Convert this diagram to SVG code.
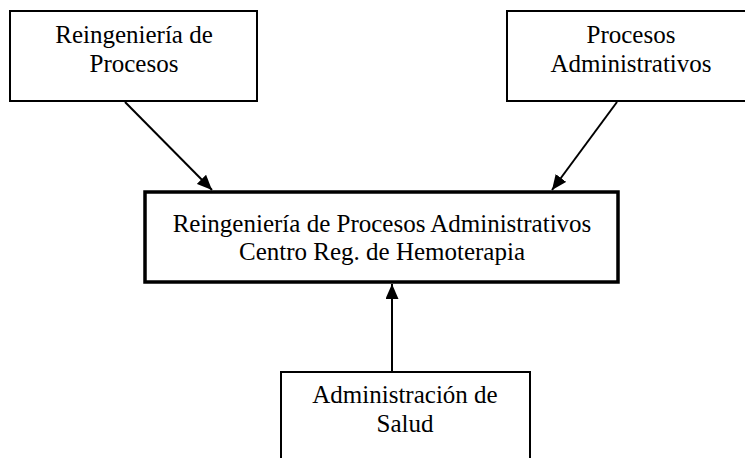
<svg xmlns="http://www.w3.org/2000/svg" width="745" height="458" viewBox="0 0 745 458">
<defs>
<style>
.box{fill:#fff;stroke:#000;stroke-width:2}
.main{fill:#fff;stroke:#000;stroke-width:3.5}
.t{font-family:"Liberation Serif","Times New Roman",serif;font-size:25px;fill:#000;text-anchor:middle}
.c{stroke:#000;stroke-width:2;fill:none;marker-end:url(#ah)}
</style>
<marker id="ah" markerWidth="15" markerHeight="13" viewBox="0 0 15 13" refX="15" refY="6.5" orient="auto" markerUnits="userSpaceOnUse">
<path d="M0,0 L15,6.5 L0,13 Z" fill="#000"/>
</marker>
</defs>
<g id="n1">
<rect class="box" x="10" y="11" width="247" height="90"/>
<text class="t" x="134" y="43">Reingeniería de</text>
<text class="t" x="134" y="72">Procesos</text>
</g>
<g id="n2">
<rect class="box" x="507" y="11" width="250" height="90"/>
<text class="t" x="631" y="43">Procesos</text>
<text class="t" x="631" y="72">Administrativos</text>
</g>
<g id="n3">
<rect class="main" x="145" y="192" width="473" height="90"/>
<text class="t" x="382" y="232">Reingeniería de Procesos Administrativos</text>
<text class="t" x="382" y="260">Centro Reg. de Hemoterapia</text>
</g>
<g id="n4">
<rect class="box" x="281" y="372" width="249" height="100"/>
<text class="t" x="405" y="403">Administración de</text>
<text class="t" x="405" y="432">Salud</text>
</g>
<g id="connectors">
<line class="c" x1="125" y1="102" x2="212" y2="190"/>
<line class="c" x1="617" y1="102" x2="552" y2="190"/>
<line class="c" x1="392" y1="371" x2="392" y2="284"/>
</g>
</svg>
